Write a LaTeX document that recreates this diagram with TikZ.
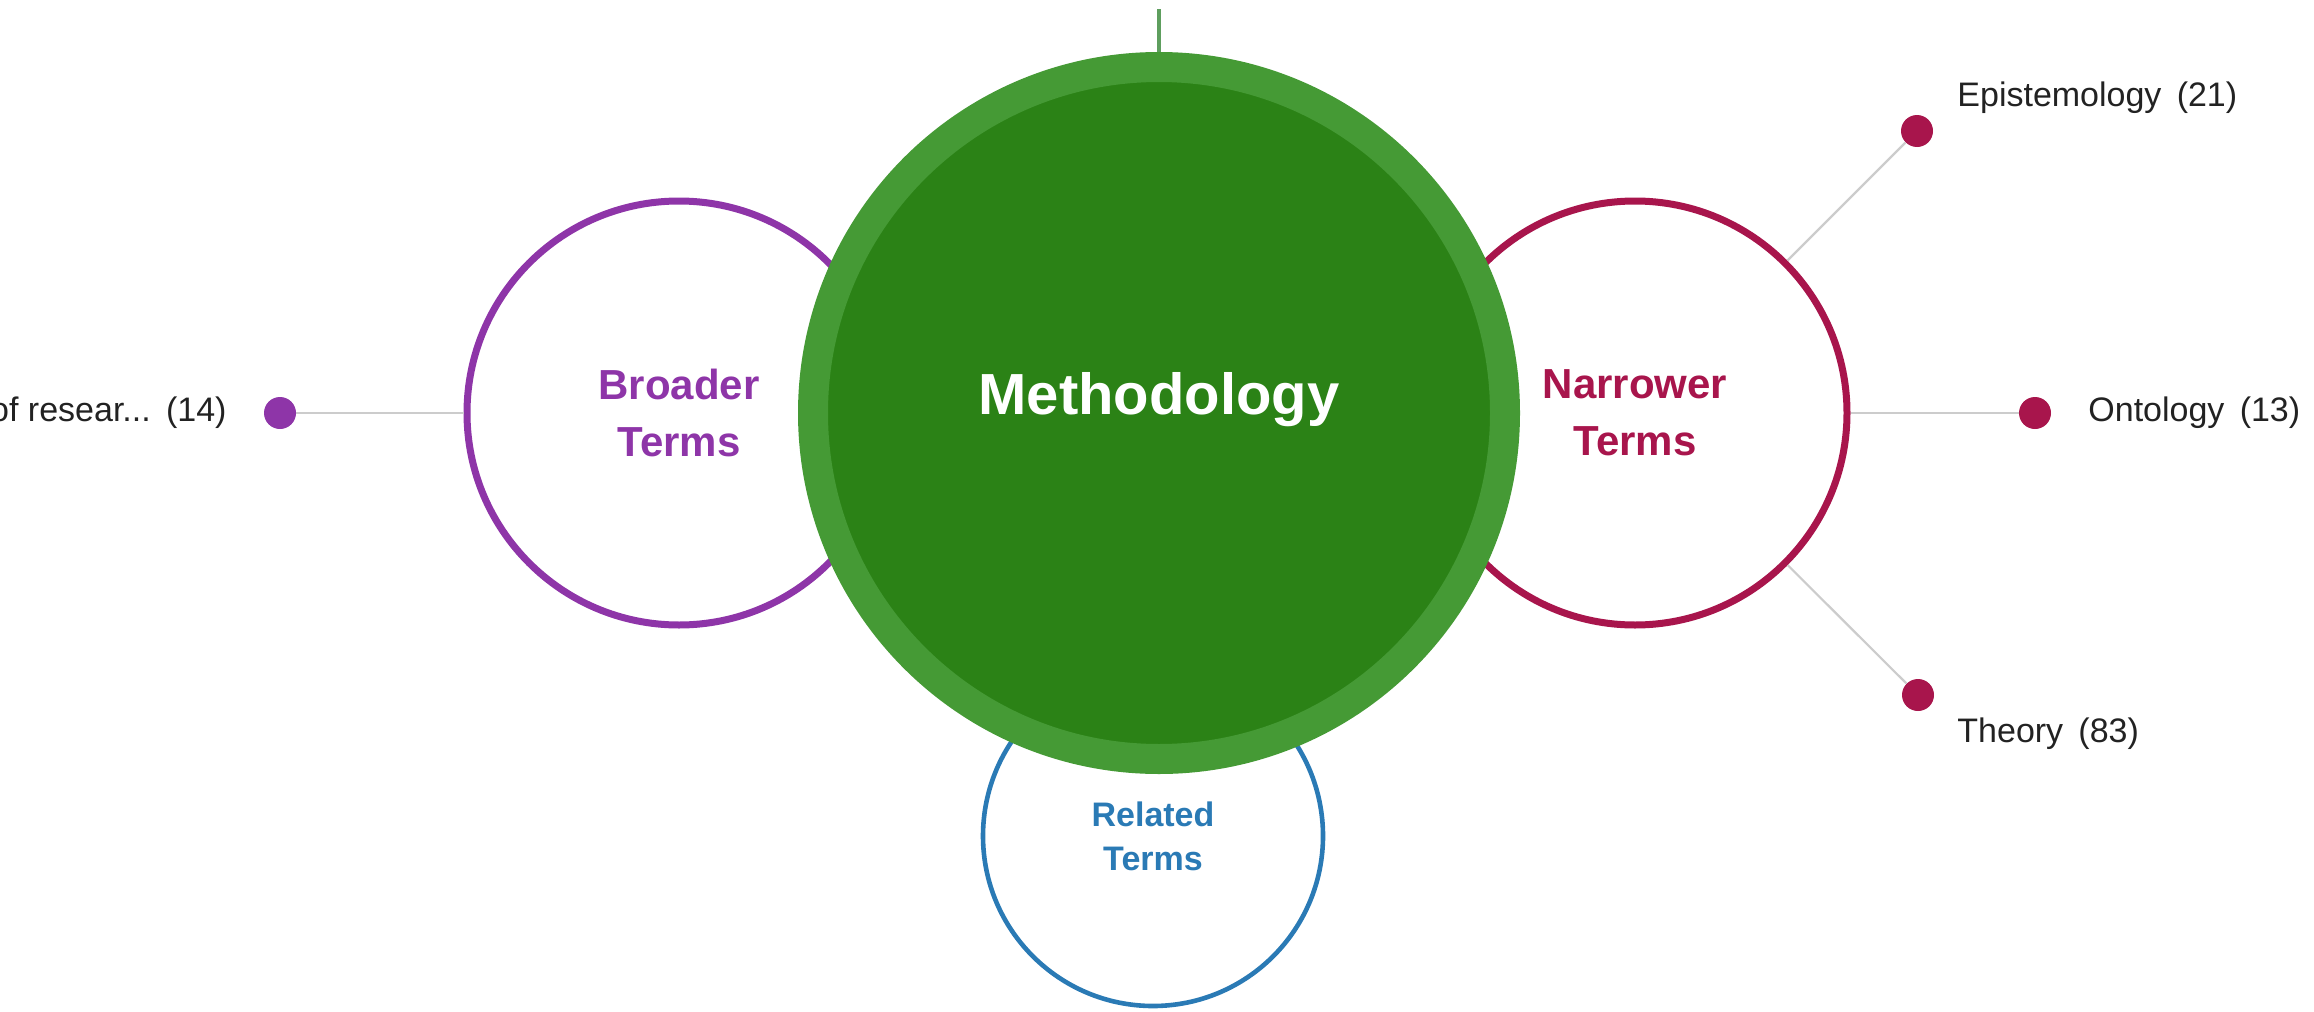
\documentclass[tikz,border=0pt]{standalone}
\usepackage{fontspec}
\setmainfont{Liberation Sans}
\definecolor{bpurple}{HTML}{8E35A8}
\definecolor{ncrimson}{HTML}{A8154C}
\definecolor{rblue}{HTML}{2A7AB5}
\definecolor{gring}{HTML}{459A35}
\definecolor{gfill}{HTML}{2B8216}
\definecolor{gline}{HTML}{5E9E5E}
\definecolor{lgray}{HTML}{CCCCCC}
\definecolor{ltext}{HTML}{222222}
\begin{document}
\begin{tikzpicture}[x=0.5pt,y=-0.5pt,
  termcircle/.style={circle, inner sep=0pt, minimum size=212pt, fill=white, line width=3.5pt,
    align=center, font=\fontsize{21pt}{28.5pt}\selectfont\bfseries},
  relcircle/.style={circle, inner sep=0pt, minimum size=170pt, fill=white, line width=2.3pt,
    align=center, font=\fontsize{17pt}{22pt}\selectfont\bfseries},
  tdot/.style={circle, inner sep=0pt, minimum size=16pt},
  conn/.style={draw=lgray, line width=1.1pt},
  lbl/.style={inner sep=0pt, text=ltext, font=\fontsize{17pt}{20pt}\selectfont}]
\useasboundingbox (0,0) rectangle (2314,1012);
% top line end
\coordinate (topend) at (1159,9);
% outer circles
\node[termcircle, draw=bpurple, text=bpurple] (broader) at (679,413) {Broader\\Terms};
\node[termcircle, draw=ncrimson, text=ncrimson] (narrower) at (1635,413) {Narrower\\Terms};
\node[relcircle, draw=rblue, text=rblue] (related) at (1153,836) {Related\\Terms};
% dots
\node[tdot, fill=bpurple] (bdot) at (280,413) {};
\node[tdot, fill=ncrimson] (edot) at (1917,131) {};
\node[tdot, fill=ncrimson] (odot) at (2035,413) {};
\node[tdot, fill=ncrimson] (tdot1) at (1918,695) {};
% connectors
\draw[conn] (broader) -- (bdot);
\draw[conn] (narrower) -- (edot);
\draw[conn] (narrower) -- (odot);
\draw[conn] (narrower) -- (tdot1);
% labels
\node[lbl, anchor=east] (blbl) at (227,413) {of resear...\hspace{0.45em}(14)};
\node[lbl, anchor=west] (elbl) at (1957,98) {Epistemology\hspace{0.45em}(21)};
\node[lbl, anchor=west] (olbl) at (2088,413) {Ontology\hspace{0.45em}(13)};
\node[lbl, anchor=west] (tlbl) at (1957,734) {Theory\hspace{0.45em}(83)};
% main circle
\node[circle, inner sep=0pt, minimum size=346pt, fill=gfill, draw=gring, line width=15pt] (meth) at (1159,413) {};
\draw[draw=gline, line width=2pt] (topend) -- (meth.north);
\node[text=white, font=\fontsize{29pt}{34pt}\selectfont\bfseries] (methtxt) at (1159,400) {Methodology};
\end{tikzpicture}
\end{document}
